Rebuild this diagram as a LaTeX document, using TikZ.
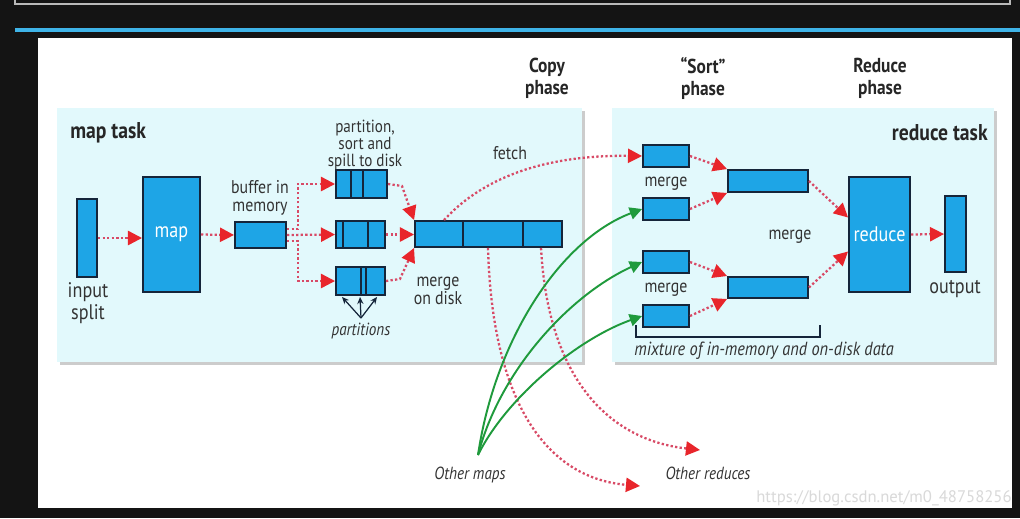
\documentclass[tikz,border=0pt]{standalone}
\usepackage{fontspec}
\setmainfont{PT Sans}[FakeStretch=0.86]
\newfontfamily\wmfont{PT Sans}
\usetikzlibrary{arrows.meta,calc}
\definecolor{boxblue}{HTML}{1EA5E6}
\definecolor{boxline}{HTML}{15253A}
\definecolor{panel}{HTML}{E2F9FC}
\definecolor{dotred}{HTML}{D84A66}
\definecolor{tipred}{HTML}{E8252B}
\definecolor{grn}{HTML}{1F9A3C}
\definecolor{txt}{HTML}{333333}
\definecolor{blueline}{HTML}{3FB4E8}
\newcommand\bx[6]{\node[bx,minimum width={(#4-#2)*0.02cm},minimum height={(#5-#3)*0.02cm}] (#1) at ({(#2+#4)/2},{(#3+#5)/2}) {#6};}
\begin{document}
\begin{tikzpicture}[x=0.02cm,y=-0.02cm,
  bx/.style={draw=boxline,fill=boxblue,line width=1.1pt,inner sep=0pt,text=white,font=\fontsize{12}{12}\selectfont},
  lbl/.style={text=txt,font=\fontsize{10.5}{10.5}\selectfont,align=center,inner sep=0pt},
  biglbl/.style={text=txt,font=\fontsize{12}{12.5}\selectfont,align=center,inner sep=0pt},
  blbl/.style={text=black!85,font=\fontsize{11.5}{12.5}\selectfont\bfseries,align=center,inner sep=0pt},
  tlbl/.style={text=black!85,font=\fontsize{13}{13}\selectfont\bfseries,inner sep=0pt},
  ilbl/.style={text=txt,font=\fontsize{10}{10}\selectfont\itshape,inner sep=0pt},
  rarr/.style={draw=dotred,line width=1.3pt,dash pattern=on 1.3pt off 1.3pt,-{Triangle[length=8pt,width=8pt,color=tipred]}},
  garr/.style={draw=grn,line width=1.1pt,-{Triangle[length=7pt,width=7pt]}},
  divl/.style={draw=boxline,line width=1.1pt},
]
\useasboundingbox (0,0) rectangle (1020,518);
% frame
\fill[black!92] (0,0) rectangle (1020,518);
\draw[gray!55,line width=0.6pt] (15,0) -- (15,4) -- (1010,4) -- (1010,0);
\draw[blueline,line width=2.5pt] (15,30) -- (1020,30);
\fill[white] (38,38) rectangle (1012,508);
% panels
\fill[gray!40] (60,111) rectangle (585,365);
\fill[panel] (57,108) rectangle (582,362);
\fill[gray!40] (615,111) rectangle (997,365);
\fill[panel] (612,108) rectangle (994,362);
\node[tlbl,anchor=west] (maptask) at (70,133) {map task};
\node[tlbl,anchor=east] (redtask) at (988,133) {reduce task};
% phases
\node[blbl] (copyph) at (547,78) {Copy\\phase};
\node[blbl] (sortph) at (703,78) {“Sort”\\phase};
\node[blbl] (redph) at (880,78) {Reduce\\phase};
% map side boxes
\bx{is}{77}{199}{97}{277}{}
\bx{map}{143}{177}{200}{292}{map}
\bx{buf}{235}{222}{286}{248}{}
\bx{s1}{336}{170}{387}{198}{}
\bx{s2}{336}{221}{385}{248}{}
\bx{s3}{336}{267}{385}{295}{}
\bx{md}{415}{221}{562}{247}{}
\draw[divl] (351,170) -- (351,198) (363,170) -- (363,198);
\draw[divl] (343,221) -- (343,248) (368,221) -- (368,248);
\draw[divl] (361,267) -- (361,295) (366,267) -- (366,295);
\draw[divl] (463,221) -- (463,247) (523,221) -- (523,247);
% reduce side boxes
\bx{m1}{643}{145}{689}{167}{}
\bx{m2}{643}{198}{689}{220}{}
\bx{m3}{643}{251}{689}{273}{}
\bx{m4}{643}{305}{689}{327}{}
\bx{A}{728}{170}{808}{192}{}
\bx{B}{728}{277}{808}{298}{}
\bx{red}{849}{177}{910}{292}{reduce}
\bx{out}{945}{196}{966}{272}{}
% labels
\node[biglbl] (islbl) at (88,303) {input\\split};
\node[lbl] (buflbl) at (260,198) {buffer in\\memory};
\node[lbl,font=\fontsize{10}{9.8}\selectfont] (spilllbl) at (365,145) {partition,\\sort and\\spill to disk};
\node[lbl] (mdlbl) at (438,291) {merge\\on disk};
\node[ilbl] (partlbl) at (361,331) {partitions};
\node[lbl] (fetchlbl) at (510,153) {fetch};
\node[lbl] (mg1) at (666,184) {merge};
\node[lbl] (mg2) at (666,290) {merge};
\node[lbl] (mg3) at (790,237) {merge};
\node[biglbl] (outlbl) at (955,289) {output};
\node[ilbl,font=\fontsize{10.8}{10.8}\selectfont\itshape,anchor=west] (mixlbl) at (634,351) {mixture of in-memory and on-disk data};
\draw[boxline,line width=0.8pt] (636,325) -- (636,337) -- (820,337) -- (820,325);
\node[ilbl] (omlbl) at (470,475) {Other maps};
\node[ilbl] (orlbl) at (708,473) {Other reduces};
\node[text=gray!30,font=\wmfont\fontsize{9.5}{9.5}\selectfont,anchor=east,inner sep=0pt] (wm) at (1012,498) {https://blog.csdn.net/m0\_48758256};
% partitions arrows
\coordinate (pp) at (361,318);
\draw[boxline,line width=0.7pt,-{Stealth[length=4pt,width=3.5pt]}] (pp) -- ([shift={(7,1)}]s3.south west);
\draw[boxline,line width=0.7pt,-{Stealth[length=4pt,width=3.5pt]}] (pp) -- ([shift={(25,1)}]s3.south west);
\draw[boxline,line width=0.7pt,-{Stealth[length=4pt,width=3.5pt]}] (pp) -- ([shift={(42,1)}]s3.south west);
% red dotted arrows, map side
\draw[rarr] (is.east) -- (is.east -| map.west);
\draw[rarr] (map.east) -- (buf.west);
\draw[rarr] ([shift={(0,-6)}]buf.east) -- ++(11,0) |- (s1.west);
\draw[rarr] (buf.east) -- (s2.west);
\draw[rarr] ([shift={(0,6)}]buf.east) -- ++(11,0) |- (s3.west);
\draw[rarr] (s1.east) -- ++(14,2) -- (md.north west);
\draw[rarr] (s2.east) -- (s2.east -| md.west);
\draw[rarr] (s3.east) -- ++(14,-2) -- (md.south west);
% fetch
\draw[rarr] ([shift={(30,0)}]md.north west) .. controls (490,170) and (560,155) .. (m1.west);
% other reduces
\coordinate (or1) at (640,486);
\coordinate (or2) at (700,450);
\draw[rarr] ([shift={(74,0)}]md.south west) .. controls (492,400) and (545,478) .. (or1);
\draw[rarr] ([shift={(127,0)}]md.south west) .. controls (548,380) and (610,440) .. (or2);
% green
\coordinate (om) at (478,455);
\draw[garr] (om) .. controls (495,340) and (560,240) .. (m2.west);
\draw[garr] (om) .. controls (500,370) and (570,295) .. (m3.west);
\draw[garr] (om) .. controls (505,400) and (575,340) .. (m4.west);
% reduce side
\draw[rarr] (m1.east) -- (A.north west);
\draw[rarr] (m2.east) -- (A.south west);
\draw[rarr] (m3.east) -- (B.north west);
\draw[rarr] (m4.east) -- (B.south west);
\draw[rarr] (A.east) -- ($(red.west)+(0,-17)$);
\draw[rarr] (B.east) -- ($(red.west)+(0,17)$);
\draw[rarr] (red.east) -- (out.west);
\end{tikzpicture}
\end{document}
